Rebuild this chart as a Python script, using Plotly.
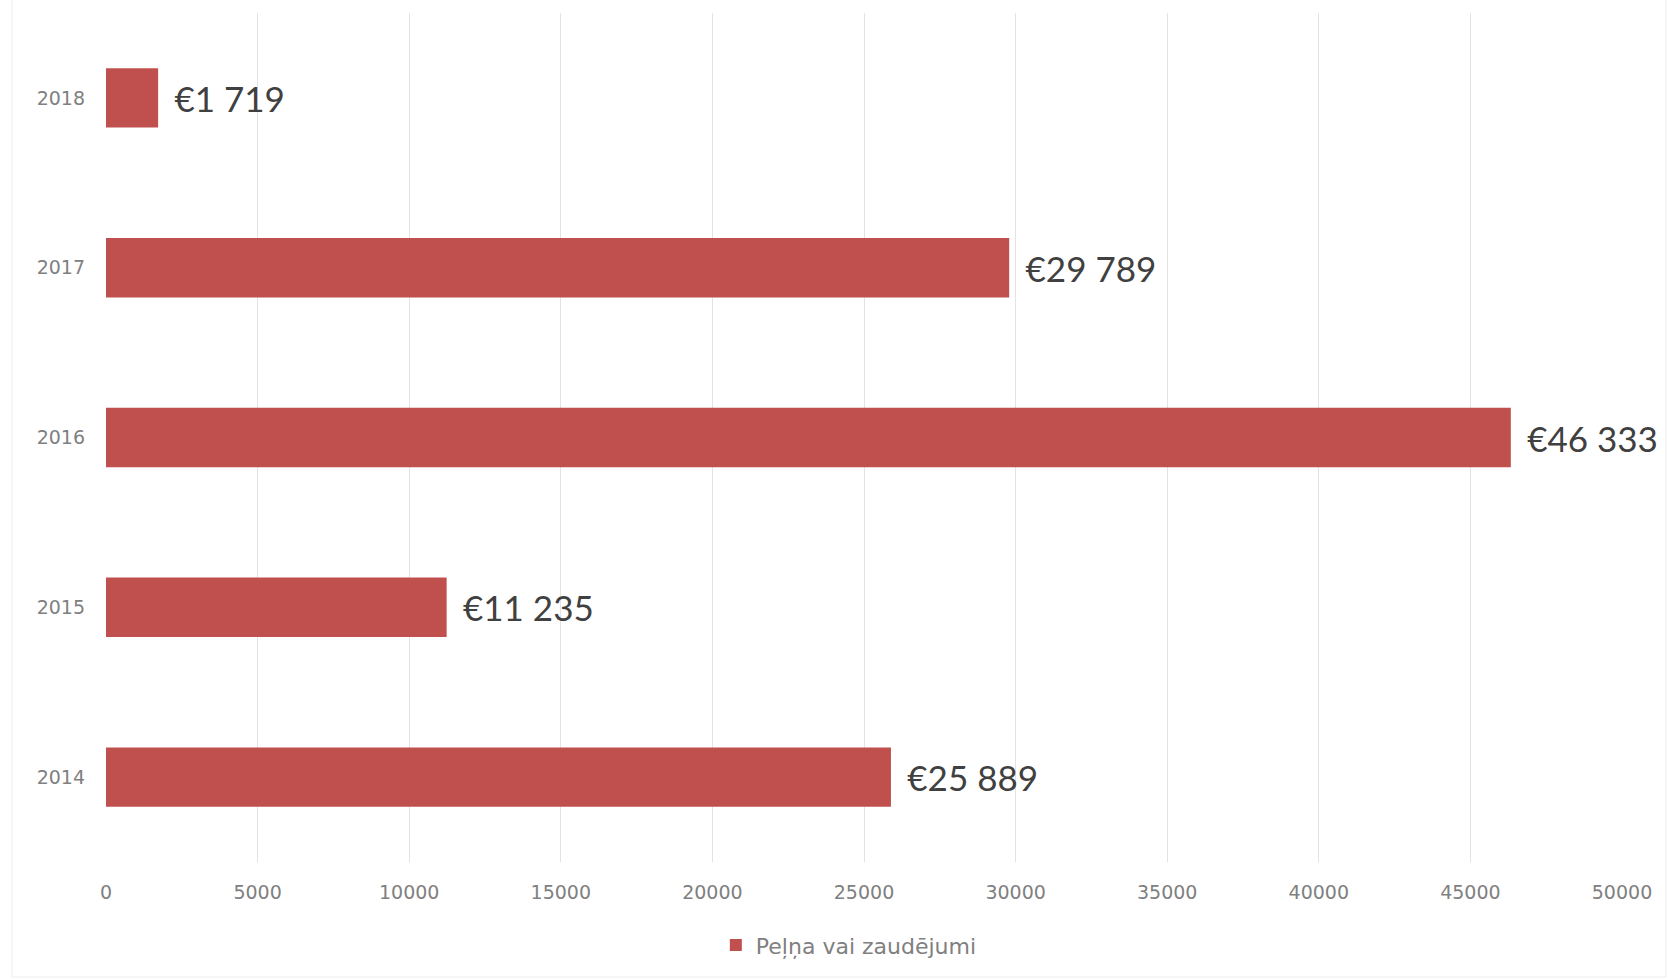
import plotly.graph_objects as go

years = ["2014", "2015", "2016", "2017", "2018"]
values = [25889, 11235, 46333, 29789, 1719]
x_ticks = [0, 5000, 10000, 15000, 20000, 25000, 30000, 35000, 40000, 45000, 50000]
series_name = "Peļņa vai zaudējumi"

LABEL_FONT = "Lato, 'DejaVu Sans', sans-serif"
TICK_FONT = "'DejaVu Sans', Lato, sans-serif"

fig = go.Figure()
fig.add_trace(go.Bar(
    y=years,
    x=values,
    orientation="h",
    name=series_name,
    marker=dict(color="#C0504D", line=dict(width=0)),
    texttemplate=" \u2009€%{x:,}",
    textposition="outside",
    textfont=dict(family=LABEL_FONT, size=35, color="#404040"),
    constraintext="none",
    cliponaxis=False,
    showlegend=True,
))

fig.update_layout(
    width=1669,
    height=979,
    paper_bgcolor="white",
    plot_bgcolor="white",
    separators=", ",
    margin=dict(l=106, r=47, t=13, b=117),
    bargap=0.65,
    font=dict(family=TICK_FONT, color="#808080"),
    showlegend=True,
    legend=dict(
        orientation="h",
        x=0.49,
        xanchor="center",
        y=-0.098,
        yanchor="middle",
        font=dict(family=TICK_FONT, size=22, color="#808080"),
    ),
    xaxis=dict(
        range=[0, 50000],
        tickvals=x_ticks,
        ticktext=[str(v) for v in x_ticks],
        showgrid=True,
        gridcolor="#E3E3E3",
        gridwidth=1,
        zeroline=False,
        showline=False,
        automargin=False,
        tickfont=dict(family=TICK_FONT, size=19, color="#808080"),
        ticklabelstandoff=17,
    ),
    yaxis=dict(
        categoryorder="array",
        categoryarray=years,
        showgrid=False,
        zeroline=False,
        showline=False,
        automargin=False,
        tickfont=dict(family=TICK_FONT, size=19, color="#808080"),
        ticklabelstandoff=20,
    ),
    shapes=[dict(
        type="rect", xref="paper", yref="paper",
        x0=-0.062, x1=1.029, y0=-0.1355, y1=1.05,
        line=dict(color="#EDEDED", width=1),
    )],
)

fig.write_html(
    "out.html",
    config={"displayModeBar": False},
    post_script="document.body.style.margin='0';",
)
